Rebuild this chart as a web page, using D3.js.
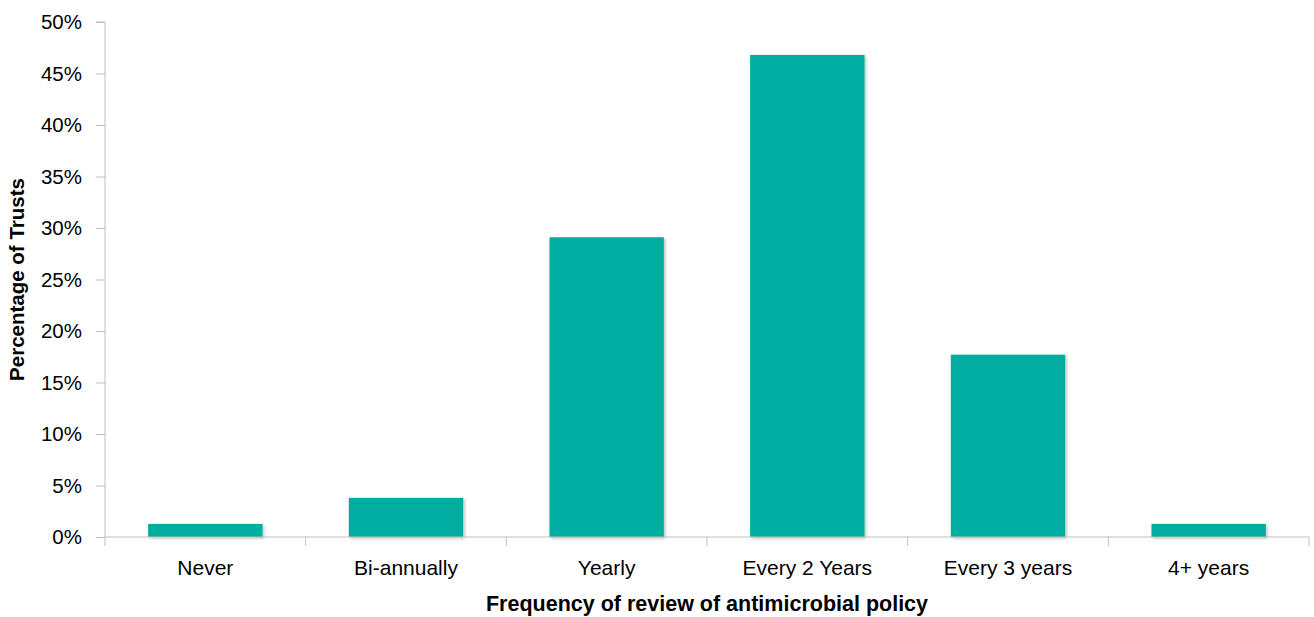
<!DOCTYPE html>
<html><head><meta charset="utf-8">
<script src="https://cdn.jsdelivr.net/npm/d3@7"></script>
<style>body{margin:0;background:#fff}svg{display:block}</style>
</head><body>
<script>
const categories = ["Never","Bi-annually","Yearly","Every 2 Years","Every 3 years","4+ years"];
const values = [1.27, 3.8, 29.1, 46.8, 17.7, 1.27];
const yTicks = [0,5,10,15,20,25,30,35,40,45,50];
const yTitle = "Percentage of Trusts";
const xTitle = "Frequency of review of antimicrobial policy";

const W = 1314, H = 617;
const m = {left:105, right:5, top:22, bottom:80};
const svg = d3.select("body").append("svg").attr("width",W).attr("height",H);
const defs = svg.append("defs");
const f = defs.append("filter").attr("id","sh").attr("x","-10%").attr("y","-10%").attr("width","130%").attr("height","130%");
f.append("feDropShadow").attr("dx",1.5).attr("dy",1.5).attr("stdDeviation",1.5).attr("flood-color","#000").attr("flood-opacity",0.25);

const x = d3.scaleBand().domain(categories).range([m.left, W-m.right]).paddingInner(0.43).paddingOuter(0.215);
const y = d3.scaleLinear().domain([0,50]).range([H-m.bottom, m.top]);
const font = "'Liberation Sans', Arial, sans-serif";

svg.append("g").selectAll("rect").data(values).join("rect")
  .attr("x",(d,i)=>x(categories[i])).attr("width",x.bandwidth())
  .attr("y",d=>y(d)).attr("height",d=>y(0)-y(d))
  .attr("fill","#02ae9f").attr("filter","url(#sh)");

const ya = svg.append("g").attr("transform",`translate(${m.left},0)`)
  .call(d3.axisLeft(y).tickValues(yTicks).tickFormat(d=>d+"%").tickSize(9).tickPadding(14));
ya.select(".domain").attr("stroke","#bfbfbf").attr("d",`M-9,${y(50)}H0V${y(0)}`);
ya.selectAll(".tick line").attr("stroke","#bfbfbf");
ya.selectAll("text").attr("font-family",font).attr("font-size",20.5).attr("fill","#000");

// x axis with boundary ticks
const xa = svg.append("g").attr("transform",`translate(0,${y(0)})`);
xa.append("line").attr("x1",m.left).attr("x2",W-m.right).attr("stroke","#bfbfbf");
const bounds = categories.map(c=>x(c)-x.step()*x.paddingInner()/2).concat([W-m.right]);
xa.selectAll("line.t").data(bounds).join("line").attr("class","t")
  .attr("x1",d=>d).attr("x2",d=>d).attr("y1",0).attr("y2",9).attr("stroke","#bfbfbf");
xa.selectAll("text").data(categories).join("text")
  .attr("x",d=>x(d)+x.bandwidth()/2).attr("y",38).attr("text-anchor","middle")
  .attr("font-family",font).attr("font-size",21).text(d=>d);

svg.append("text").attr("transform",`translate(24,${(y(0)+y(50))/2}) rotate(-90)`)
  .attr("text-anchor","middle").attr("font-family",font).attr("font-weight","bold").attr("font-size",20.5).text(yTitle);
svg.append("text").attr("x",707).attr("y",611).attr("text-anchor","middle")
  .attr("font-family",font).attr("font-weight","bold").attr("font-size",21.5).text(xTitle);
</script>
</body></html>
